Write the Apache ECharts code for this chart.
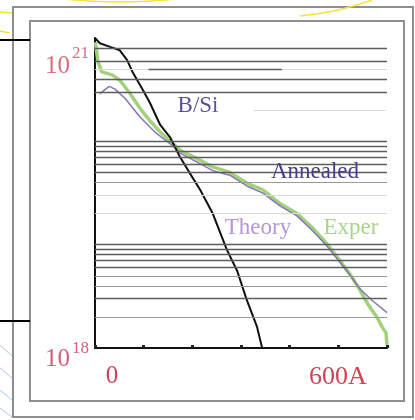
<!DOCTYPE html>
<html>
<head>
<meta charset="utf-8">
<script src="https://cdn.jsdelivr.net/npm/echarts@6/dist/echarts.min.js"></script>
<style>
html, body { margin: 0; padding: 0; background: #fff; }
#chart { width: 415px; height: 420px; }
</style>
</head>
<body>
<div id="chart"></div>
<script>
// depth (A) vs boron concentration (cm^-3)
const implantDepth = [0, 10, 31, 51, 66, 78, 99, 113, 134, 154, 175, 195, 216, 242, 271, 292, 312, 333, 343]
const implantConc = [1e21, 8.9e20, 8.2e20, 7.6e20, 6.1e20, 4.6e20, 3.1e20, 2.35e20, 1.44e20, 1.1e20, 7e19, 4.9e19, 3.4e19, 2.0e19, 8.9e18, 5.6e18, 2.9e18, 1.6e18, 1.02e18]

const experDepth = [1, 6, 14, 35, 51, 72, 92, 113, 134, 158, 175, 210, 242, 277, 312, 345, 380, 415, 448, 475, 503, 525, 545, 562, 579, 590, 598, 600]
const experConc = [9.1e20, 5.9e20, 4.7e20, 4.4e20, 3.9e20, 2.9e20, 2.1e20, 1.58e20, 1.23e20, 9.7e19, 8.2e19, 6.8e19, 5.65e19, 5.0e19, 3.95e19, 3.4e19, 2.5e19, 2.0e19, 1.44e19, 1.04e19, 7.0e18, 5.1e18, 3.6e18, 2.6e18, 2.0e18, 1.6e18, 1.4e18, 1.07e18]

const theoryDepth = [10, 29, 41, 62, 92, 123, 158, 175, 210, 242, 277, 312, 345, 380, 415, 448, 475, 503, 525, 545, 569, 600]
const theoryConc = [2.9e20, 3.4e20, 3.2e20, 2.6e20, 1.73e20, 1.23e20, 9.2e19, 7.7e19, 6.3e19, 5.2e19, 4.7e19, 3.7e19, 3.16e19, 2.37e19, 1.9e19, 1.35e19, 9.9e18, 6.8e18, 5.0e18, 3.7e18, 2.9e18, 2.2e18]

// log grid lines that show on the slide
const gridDark = [8e20, 6e20, 4e20, 3e20, 1e20, 9e19, 8e19, 7e19, 6e19, 5e19, 1e19, 9e18, 8e18, 7e18, 6e18, 3e18]
const gridMid = [4e19, 5e18, 4e18, 2e18]
const gridFaint = [5e20, 3e19, 2e19]

const xTicks = [0, 600]
const xTickLabels = ['0', '600A']
const yTickExp = [18, 21]

const toPairs = (xs, ys) => xs.map((x, i) => [x, ys[i]])
const hline = (v, color, width) => ({ yAxis: v, lineStyle: { color, width, type: 'solid' } })

const serif = '"Liberation Serif", "DejaVu Serif", serif'

const gridLines = [
  ...gridDark.map(v => hline(v, '#5e5e5e', 1.3)),
  ...gridMid.map(v => hline(v, '#9a9a9a', 1.2)),
  ...gridFaint.map(v => hline(v, '#dadada', 1)),
  [{ coord: [110, 5e20], lineStyle: { color: '#5e5e5e', width: 1.3, type: 'solid' } }, { coord: [384, 5e20] }],
  [{ coord: [325, 2e20], lineStyle: { color: '#dcdcdc', width: 1, type: 'solid' } }, { coord: [598, 2e20] }]
]

const chart = echarts.init(document.getElementById('chart'))

chart.setOption({
  animation: false,
  backgroundColor: '#fff',
  grid: { left: 95, right: 28, top: 38, bottom: 72 },
  xAxis: {
    type: 'value',
    min: 0,
    max: 600,
    interval: 100,
    splitLine: { show: false },
    axisLine: { lineStyle: { color: '#111', width: 2 } },
    axisTick: { show: true, inside: true, length: 3, lineStyle: { color: '#222', width: 3 } },
    axisLabel: {
      showMinLabel: true,
      showMaxLabel: true,
      margin: 16,
      fontFamily: serif,
      fontSize: 25,
      color: '#cc4455',
      formatter: v => {
        const i = xTicks.indexOf(v)
        if (i < 0) return ''
        return '{x' + i + '|' + xTickLabels[i] + '}'
      },
      rich: {
        x0: { fontFamily: serif, fontSize: 25, color: '#cc4455', padding: [0, 0, 0, 34] },
        x1: { fontFamily: serif, fontSize: 26, color: '#cc4455', padding: [0, 98, 0, 0] }
      }
    }
  },
  yAxis: {
    type: 'log',
    logBase: 10,
    min: 1e18,
    max: 1e21,
    splitLine: { show: false },
    axisLine: { show: true, lineStyle: { color: '#111', width: 2 } },
    axisTick: { show: false },
    axisLabel: {
      margin: 6,
      fontFamily: serif,
      color: '#d0607a',
      formatter: v => {
        const e = Math.round(Math.log10(v))
        if (yTickExp.indexOf(e) < 0) return ''
        return '{b' + e + '|10}{s' + e + '|' + e + '}'
      },
      rich: {
        b21: { fontFamily: serif, fontSize: 25, lineHeight: 25, color: '#d86f80', verticalAlign: 'top', padding: [28, 0, 0, 0] },
        s21: { fontFamily: serif, fontSize: 17, lineHeight: 17, color: '#d86f80', verticalAlign: 'top', padding: [20, 0, 0, 2] },
        b18: { fontFamily: serif, fontSize: 25, lineHeight: 25, color: '#d0607a', verticalAlign: 'top', padding: [11, 0, 0, 0] },
        s18: { fontFamily: serif, fontSize: 17, lineHeight: 17, color: '#d0607a', verticalAlign: 'top', padding: [5, 0, 0, 2] }
      }
    }
  },
  series: [
    {
      name: 'grid',
      type: 'line',
      data: [],
      silent: true,
      markLine: {
        silent: true,
        symbol: ['none', 'none'],
        label: { show: false },
        data: gridLines
      }
    },
    {
      name: 'Exper',
      type: 'line',
      data: toPairs(experDepth, experConc),
      symbol: 'none',
      lineStyle: { color: '#9fd27a', width: 3.5 }
    },
    {
      name: 'Theory',
      type: 'line',
      data: toPairs(theoryDepth, theoryConc),
      symbol: 'none',
      lineStyle: { color: '#8676b4', width: 1.5 }
    },
    {
      name: 'B/Si',
      type: 'line',
      data: toPairs(implantDepth, implantConc),
      symbol: 'none',
      lineStyle: { color: '#111', width: 2 }
    }
  ],
  graphic: [
    // slide frames
    { type: 'rect', z: -1, shape: { x: 13, y: 7, width: 400, height: 410 }, style: { fill: 'none', stroke: '#8e8e8e', lineWidth: 2 } },
    { type: 'rect', z: -1, shape: { x: 30, y: 21, width: 374, height: 380 }, style: { fill: 'none', stroke: '#8e8e8e', lineWidth: 2 } },
    // slide background bits
    { type: 'bezierCurve', shape: { x1: 55, y1: -2, cpx1: 120, cpy1: 6, x2: 185, y2: -2 }, style: { stroke: '#f2e23a', lineWidth: 1.5, fill: 'none' } },
    { type: 'bezierCurve', shape: { x1: 300, y1: 16, cpx1: 340, cpy1: 12, x2: 372, y2: 0 }, style: { stroke: '#f2e23a', lineWidth: 1.5, fill: 'none' } },
    { type: 'line', shape: { x1: 0, y1: 12, x2: 12, y2: 13 }, style: { stroke: '#f2e23a', lineWidth: 1.5 } },
    { type: 'line', shape: { x1: 0, y1: 31, x2: 10, y2: 33 }, style: { stroke: '#f2e23a', lineWidth: 1.5 } },
    { type: 'line', shape: { x1: 0, y1: 40, x2: 30, y2: 40 }, style: { stroke: '#000', lineWidth: 2 } },
    { type: 'line', shape: { x1: 0, y1: 321, x2: 30, y2: 321 }, style: { stroke: '#000', lineWidth: 2 } },
    { type: 'line', shape: { x1: 0, y1: 345, x2: 12, y2: 356 }, style: { stroke: '#a9c6ea', lineWidth: 1 } },
    { type: 'line', shape: { x1: 0, y1: 368, x2: 12, y2: 378 }, style: { stroke: '#a9c6ea', lineWidth: 1 } },
    { type: 'line', shape: { x1: 0, y1: 390, x2: 12, y2: 400 }, style: { stroke: '#a9c6ea', lineWidth: 1 } },
    { type: 'line', shape: { x1: 0, y1: 408, x2: 12, y2: 417 }, style: { stroke: '#a9c6ea', lineWidth: 1 } },
    // curve annotations
    { type: 'text', z: 10, style: { text: 'B/Si', x: 198, y: 106, font: '23px ' + serif, fill: '#5c4f9a', textAlign: 'center', textVerticalAlign: 'middle', align: 'center', verticalAlign: 'middle' } },
    { type: 'text', z: 10, style: { text: 'Annealed', x: 315, y: 172, font: '23px ' + serif, fill: '#4b3d8c', textAlign: 'center', textVerticalAlign: 'middle', align: 'center', verticalAlign: 'middle' } },
    { type: 'text', z: 10, style: { text: 'Theory', x: 258, y: 228, font: '23px ' + serif, fill: '#b596d6', textAlign: 'center', textVerticalAlign: 'middle', align: 'center', verticalAlign: 'middle' } },
    { type: 'text', z: 10, style: { text: 'Exper', x: 351, y: 228, font: '23px ' + serif, fill: '#a9d48a', textAlign: 'center', textVerticalAlign: 'middle', align: 'center', verticalAlign: 'middle' } }
  ]
})
</script>
</body>
</html>
